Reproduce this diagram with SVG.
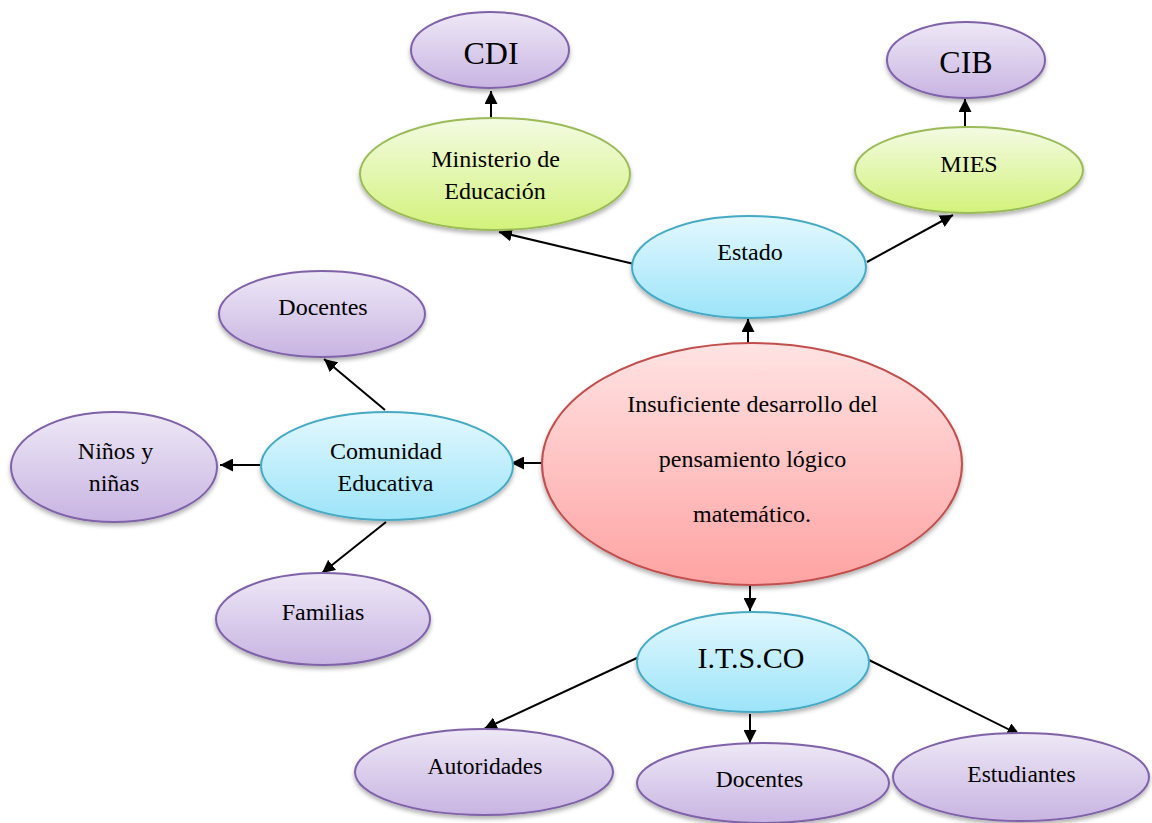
<svg xmlns="http://www.w3.org/2000/svg" width="1152" height="823" viewBox="0 0 1152 823">
  <style>
    text { font-family: "Liberation Serif", "DejaVu Serif", "Times New Roman", serif; font-size: 24px; fill: #000; text-anchor: middle; }
    text.sm { font-size: 23.5px; }
    text.big { font-size: 30px; }
    text.big2 { font-size: 32px; }
    .purple { fill: url(#gPurple); stroke: #7f62a8; stroke-width: 2; }
    .cyan { fill: url(#gCyan); stroke: #46aac4; stroke-width: 2; }
    .green { fill: url(#gGreen); stroke: #9bbb59; stroke-width: 2; }
    .red { fill: url(#gRed); stroke: #c0504d; stroke-width: 2; }
    .node ellipse { filter: url(#shadow); }
    #connectors line { stroke: #000; stroke-width: 2; marker-end: url(#arrow); }
  </style>
  <defs>
    <linearGradient id="gPurple" x1="0" y1="0" x2="0" y2="1">
      <stop offset="0" stop-color="#eee8f6"/>
      <stop offset="1" stop-color="#c8b4e2"/>
    </linearGradient>
    <linearGradient id="gCyan" x1="0" y1="0" x2="0" y2="1">
      <stop offset="0" stop-color="#e3f8fe"/>
      <stop offset="1" stop-color="#9ce4f9"/>
    </linearGradient>
    <linearGradient id="gGreen" x1="0" y1="0" x2="0" y2="1">
      <stop offset="0" stop-color="#f3fbe3"/>
      <stop offset="1" stop-color="#d3f27b"/>
    </linearGradient>
    <linearGradient id="gRed" x1="0" y1="0" x2="0" y2="1">
      <stop offset="0" stop-color="#ffe3e3"/>
      <stop offset="1" stop-color="#ffa3a3"/>
    </linearGradient>
    <filter id="shadow" x="-10%" y="-10%" width="120%" height="130%">
      <feDropShadow dx="0" dy="3" stdDeviation="2" flood-color="#000" flood-opacity="0.3"/>
    </filter>
    <marker id="arrow" viewBox="0 0 10 10" refX="10" refY="5" markerWidth="6.5" markerHeight="6.5" markerUnits="strokeWidth" orient="auto">
      <path d="M0,0 L10,5 L0,10 Z" fill="#000"/>
    </marker>
  </defs>

  <!-- connectors: parent edge to child edge -->
  <g id="connectors">
    <line x1="748" y1="343" x2="748" y2="319"/>
    <line x1="634" y1="264" x2="499" y2="232"/>
    <line x1="867" y1="262" x2="953" y2="215"/>
    <line x1="491" y1="118" x2="491" y2="91"/>
    <line x1="965" y1="127" x2="965" y2="99"/>
    <line x1="543" y1="463" x2="511" y2="463"/>
    <line x1="385" y1="410" x2="324" y2="359"/>
    <line x1="261" y1="465" x2="220" y2="465"/>
    <line x1="386" y1="522" x2="322" y2="573"/>
    <line x1="750" y1="580" x2="750" y2="611"/>
    <line x1="639" y1="657" x2="484" y2="729"/>
    <line x1="750" y1="714" x2="750" y2="743"/>
    <line x1="869" y1="660" x2="1020" y2="735"/>
  </g>

  <g id="node-central" class="node">
    <ellipse class="red" cx="752" cy="464" rx="210" ry="121"/>
    <text x="752.5" y="412">Insuficiente desarrollo del</text>
    <text x="752.5" y="467">pensamiento lógico</text>
    <text x="752" y="522">matemático.</text>
  </g>

  <g id="node-estado" class="node">
    <ellipse class="cyan" cx="749" cy="267" rx="117" ry="51"/>
    <text x="750" y="260">Estado</text>
  </g>

  <g id="node-ministerio" class="node">
    <ellipse class="green" cx="495" cy="174" rx="135" ry="56"/>
    <text x="495.5" y="167">Ministerio de</text>
    <text x="495" y="199">Educación</text>
  </g>

  <g id="node-mies" class="node">
    <ellipse class="green" cx="969" cy="170" rx="114" ry="43"/>
    <text x="969" y="172">MIES</text>
  </g>

  <g id="node-cdi" class="node">
    <ellipse class="purple" cx="490" cy="50" rx="79" ry="38"/>
    <text class="big2" x="491" y="64">CDI</text>
  </g>

  <g id="node-cib" class="node">
    <ellipse class="purple" cx="966" cy="60" rx="79" ry="38"/>
    <text class="big2" x="966" y="73">CIB</text>
  </g>

  <g id="node-comunidad" class="node">
    <ellipse class="cyan" cx="387" cy="466" rx="126" ry="54"/>
    <text x="386" y="459">Comunidad</text>
    <text x="385.5" y="491">Educativa</text>
  </g>

  <g id="node-docentes-com" class="node">
    <ellipse class="purple" cx="322" cy="314" rx="103" ry="43"/>
    <text x="323" y="315">Docentes</text>
  </g>

  <g id="node-ninos" class="node">
    <ellipse class="purple" cx="114" cy="467" rx="103" ry="55"/>
    <text x="115.5" y="459">Niños y</text>
    <text x="114" y="491">niñas</text>
  </g>

  <g id="node-familias" class="node">
    <ellipse class="purple" cx="323" cy="619" rx="107" ry="46"/>
    <text x="323" y="620">Familias</text>
  </g>

  <g id="node-itsco" class="node">
    <ellipse class="cyan" cx="753" cy="662" rx="116" ry="50"/>
    <text class="big" x="751" y="668">I.T.S.CO</text>
  </g>

  <g id="node-autoridades" class="node">
    <ellipse class="purple" cx="484" cy="772" rx="129" ry="43"/>
    <text class="sm" x="485" y="774">Autoridades</text>
  </g>

  <g id="node-docentes-itsco" class="node">
    <ellipse class="purple" cx="763" cy="783" rx="126" ry="40"/>
    <text class="sm" x="759.5" y="787">Docentes</text>
  </g>

  <g id="node-estudiantes" class="node">
    <ellipse class="purple" cx="1021" cy="777" rx="128" ry="44"/>
    <text class="sm" x="1021.5" y="782">Estudiantes</text>
  </g>
</svg>
